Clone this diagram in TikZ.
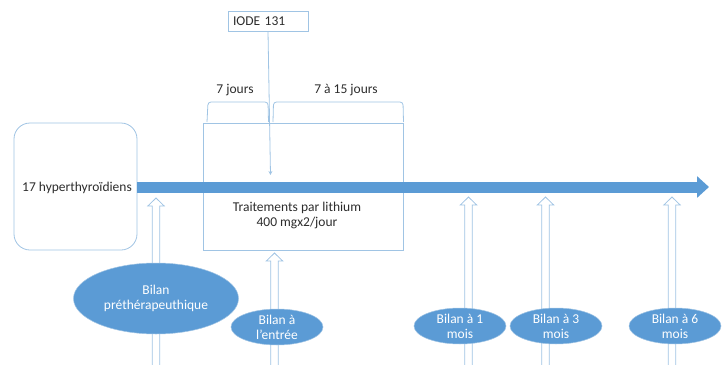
\documentclass[tikz,border=0pt]{standalone}
\usepackage{fontspec}
\setmainfont{Carlito}
\usetikzlibrary{shapes.geometric,arrows.meta}
\definecolor{fillblue}{RGB}{91,155,213}
\definecolor{lineblue}{RGB}{160,196,228}
\definecolor{txtgray}{RGB}{45,45,45}
\begin{document}
\begin{tikzpicture}[x=1pt,y=-1pt,
  font=\fontsize{13.5}{15}\selectfont,
  frame/.style={draw=lineblue, line width=0.8pt, fill=white, text=txtgray, inner sep=0pt},
  plain/.style={text=txtgray, inner sep=0pt, align=center},
  hollow/.style={draw=lineblue, line width=0.8pt, fill=white},
  bilan/.style={shape=ellipse, fill=fillblue, draw=lineblue, line width=0.5pt, inner sep=0pt},
  bilantxt/.style={text=white, align=center, inner sep=0pt},
  bracket/.style={draw=lineblue, line width=0.8pt, rounded corners=3pt}]
\useasboundingbox (0,0) rectangle (728,364);

% patient group
\node[frame, rounded corners=16pt, minimum width=123, minimum height=127] (hyper) at (75.5,186.5) {};
\node[plain] (hyperlbl) at (77,188) {17 hyperthyroïdiens};

% treatment period
\node[frame, minimum width=200, minimum height=127] (treat) at (303,186.5) {};
\node[plain] (treatlbl) at (297,215) {Traitements par lithium\\400 mgx2/jour};

% iodine dose
\node[frame, minimum width=80, minimum height=20, text width=70, inner xsep=5pt, align=left] (iode) at (268,21) {IODE 131};
\coordinate (iodetip) at (270.5,175);
\draw[lineblue, line width=0.8pt, -{Stealth[length=4pt,width=4pt]}] (iode.south) -- (iodetip);

% durations
\node[plain] (j7) at (235,90) {7 jours};
\node[plain] (j15) at (346,90) {7 à 15 jours};
\draw[bracket] (207,122) -- (208,102) -- (268,102) -- (268.5,122);
\draw[bracket] (273,122) -- (273.5,102) -- (403,102) -- (403.5,122);

% time line
\coordinate (timeend) at (709,187);
\draw[fillblue, line width=11pt, -{Triangle[length=12pt,width=21pt]}] (hyper.east |- timeend) -- (timeend);

% assessment arrows
\foreach \x/\t in {156/198, 274.5/253, 468.5/197, 545.5/197, 672/197} {
  \draw[hollow] (\x-3.8,368) -- (\x-3.8,\t+8) -- (\x-8.2,\t+8) -- (\x,\t)
    -- (\x+8.2,\t+8) -- (\x+3.8,\t+8) -- (\x+3.8,368);
}

% assessments
\node[bilan, minimum width=165, minimum height=71, label={[bilantxt]center:{Bilan\\préthérapeuthique}}] (pre) at (156,298.5) {};
\node[bilan, minimum width=92, minimum height=36, label={[bilantxt]center:{Bilan à\\l’entrée}}] (entree) at (277,327) {};
\node[bilan, minimum width=92, minimum height=36, label={[bilantxt]center:{Bilan à 1\\mois}}] (m1) at (460,326) {};
\node[bilan, minimum width=92, minimum height=36, label={[bilantxt]center:{Bilan à 3\\mois}}] (m3) at (556,326) {};
\node[bilan, minimum width=92, minimum height=36, label={[bilantxt]center:{Bilan à 6\\mois}}] (m6) at (675,326) {};
\end{tikzpicture}
\end{document}
